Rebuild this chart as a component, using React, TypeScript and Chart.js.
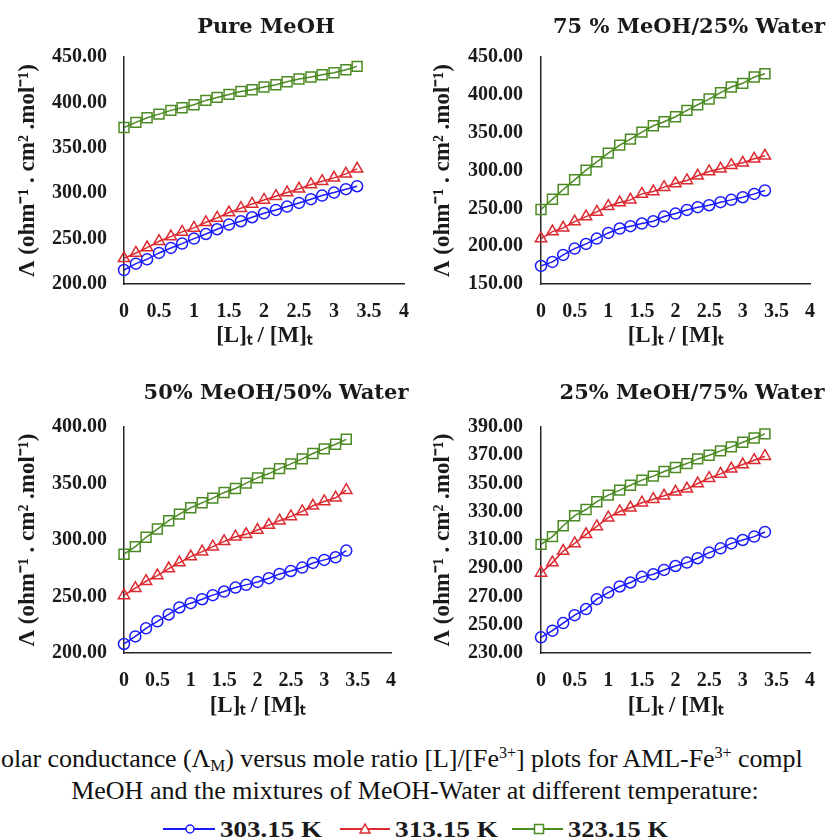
import React, { useEffect, useRef } from 'react';
import { Chart, registerables } from 'chart.js';

Chart.register(...registerables);

// ---------- DATA ----------
const ratio = [0, 0.17, 0.33, 0.5, 0.67, 0.83, 1, 1.17, 1.33, 1.5, 1.67, 1.83, 2, 2.17, 2.33, 2.5, 2.67, 2.83, 3, 3.17, 3.33];
const seriesLabels = ['303.15 K', '313.15 K', '323.15 K'];
const panelTitles = ['Pure MeOH', '75 % MeOH/25% Water', '50% MeOH/50% Water', '25% MeOH/75% Water'];
const xTickLabels = ['0', '0.5', '1', '1.5', '2', '2.5', '3', '3.5', '4'];

// Pure MeOH
const pure303 = [215.4, 222.4, 227.2, 234.2, 239.7, 244.5, 250.0, 255.1, 260.3, 265.4, 269.1, 273.5, 277.9, 281.6, 285.3, 289.3, 293.4, 297.4, 300.7, 304.4, 307.7];
const pure313 = [228.3, 234.2, 240.1, 247.1, 252.2, 257.4, 261.8, 268.0, 272.8, 278.7, 283.5, 288.2, 292.6, 296.7, 300.7, 304.8, 309.6, 313.2, 316.9, 321.3, 326.8];
const pure323 = [372.4, 378.0, 383.1, 387.1, 391.2, 394.1, 397.4, 402.2, 405.5, 408.8, 412.1, 414.0, 416.9, 419.5, 422.8, 425.7, 427.9, 430.5, 432.7, 436.0, 439.7];

// 75 % MeOH / 25 % Water
const m75_303 = [173.9, 179.2, 188.4, 196.8, 203.0, 210.0, 217.5, 223.3, 226.4, 229.9, 232.9, 239.1, 243.1, 247.9, 251.5, 254.1, 258.1, 261.2, 264.7, 269.1, 273.6];
const m75_313 = [210.0, 219.3, 224.2, 232.5, 239.1, 245.3, 252.8, 257.7, 261.2, 269.1, 272.2, 278.0, 282.8, 286.8, 293.0, 298.7, 302.2, 307.1, 310.2, 315.5, 319.4];
const m75_323 = [248.4, 262.1, 274.9, 287.7, 300.5, 311.5, 323.0, 333.5, 341.5, 350.7, 359.1, 364.4, 371.0, 379.4, 386.9, 394.4, 402.8, 410.3, 415.2, 423.5, 427.9];

// 50 % MeOH / 50 % Water
const m50_303 = [208.0, 214.7, 221.8, 228.0, 234.1, 240.3, 244.1, 247.6, 251.2, 254.4, 257.9, 260.3, 262.9, 266.2, 270.0, 272.6, 275.6, 279.7, 282.4, 284.7, 290.6];
const m50_313 = [250.9, 257.4, 263.5, 268.5, 274.7, 280.0, 285.3, 289.7, 294.1, 298.8, 302.9, 305.0, 308.8, 313.2, 317.1, 320.9, 325.3, 330.3, 334.1, 337.4, 344.1];
const m50_323 = [287.4, 294.1, 302.4, 309.7, 317.1, 322.9, 328.5, 332.9, 337.1, 342.1, 345.6, 350.3, 355.0, 358.8, 363.2, 367.4, 371.8, 376.5, 380.6, 384.7, 389.1];

// 25 % MeOH / 75 % Water
const m25_303 = [241.1, 245.8, 251.2, 256.8, 261.1, 268.1, 272.8, 277.1, 279.9, 283.9, 285.8, 288.8, 291.6, 294.0, 297.1, 301.1, 304.1, 307.6, 310.0, 312.4, 315.7];
const m25_313 = [286.7, 294.0, 302.2, 307.6, 314.0, 319.6, 325.8, 330.2, 332.8, 336.4, 338.9, 341.3, 344.1, 346.2, 350.0, 353.8, 356.8, 360.4, 363.4, 366.5, 369.3];
const m25_323 = [306.9, 312.4, 320.1, 327.2, 331.6, 337.1, 341.8, 345.3, 348.8, 352.4, 355.2, 358.5, 361.3, 364.1, 367.4, 370.0, 373.1, 375.9, 379.2, 382.2, 385.1];

// y-axis ranges [min, max, step]
const yRanges = [
  [200, 450, 50],
  [150, 450, 50],
  [200, 400, 50],
  [230, 390, 20],
];

// ---------- STYLE ----------
const COLORS = ['#1a1aff', '#dc2a30', '#4b8a22'];
const STYLES = ['circle', 'triangle', 'rect'];
const RADII = [5.5, 6.5, 7];
const SERIF = '"Liberation Serif", "Times New Roman", serif';
const TEXT = '#1a1a1a';

const panelTitlePlugin = {
  id: 'panelTitle',
  afterDraw(chart: any, _args: any, opts: any) {
    if (!opts || !opts.text) return;
    const ctx = chart.ctx;
    ctx.save();
    ctx.font = 'bold 21px "DejaVu Serif", serif';
    ctx.fillStyle = TEXT;
    ctx.textAlign = 'center';
    ctx.textBaseline = 'middle';
    ctx.fillText(opts.text, opts.x, opts.y);
    ctx.restore();
  },
};

type Layout = {
  cx: number; cy: number; w: number; h: number;
  left: number; right: number; top: number; bottom: number;
  xH: number; yTickPad: number; titleX: number; titleY: number;
};

const layouts: Layout[] = [
  { cx: 0, cy: 0, w: 415, h: 360, left: 124, right: 404, top: 57, bottom: 284, xH: 66, yTickPad: 17, titleX: 266, titleY: 28 },
  { cx: 415, cy: 0, w: 415, h: 360, left: 126, right: 395, top: 57, bottom: 284, xH: 66, yTickPad: 18, titleX: 274, titleY: 28 },
  { cx: 0, cy: 360, w: 415, h: 380, left: 124, right: 391, top: 67, bottom: 293, xH: 67, yTickPad: 17, titleX: 276, titleY: 34 },
  { cx: 415, cy: 360, w: 415, h: 380, left: 126, right: 395, top: 67, bottom: 293, xH: 67, yTickPad: 18, titleX: 277, titleY: 34 },
];

const panelSeries = [
  [pure303, pure313, pure323],
  [m75_303, m75_313, m75_323],
  [m50_303, m50_313, m50_323],
  [m25_303, m25_313, m25_323],
];

function Panel({ index }: { index: number }) {
  const ref = useRef<HTMLCanvasElement | null>(null);
  useEffect(() => {
    const L = layouts[index];
    const [ymin, ymax, ystep] = yRanges[index];
    const series = panelSeries[index];
    const datasets = series.map((vals, si) => ({
      label: seriesLabels[si],
      data: ratio.map((x, i) => ({ x, y: vals[i] })),
      borderColor: COLORS[si],
      backgroundColor: 'transparent',
      borderWidth: 1.5,
      pointStyle: STYLES[si],
      pointRadius: RADII[si],
      pointBorderWidth: 1.5,
      pointBackgroundColor: 'transparent',
      pointBorderColor: COLORS[si],
      tension: 0,
      clip: false as any,
    }));
    const chart = new Chart(ref.current as HTMLCanvasElement, {
      type: 'line',
      data: { datasets },
      plugins: [panelTitlePlugin as any],
      options: {
        responsive: false,
        animation: false,
        events: [],
        layout: {
          padding: { left: 0, top: L.top, right: L.w - L.right, bottom: L.h - L.bottom - L.xH },
        },
        plugins: {
          legend: { display: false },
          tooltip: { enabled: false },
          panelTitle: { text: panelTitles[index], x: L.titleX, y: L.titleY },
        } as any,
        scales: {
          x: {
            type: 'linear',
            min: 0,
            max: 4,
            afterBuildTicks: (s: any) => {
              s.ticks = xTickLabels.map((t) => ({ value: parseFloat(t) }));
            },
            ticks: {
              padding: 16,
              maxRotation: 0,
              autoSkip: false,
              color: TEXT,
              font: { family: SERIF, size: 20, weight: 'bold' },
              callback: (v: any) => String(v),
            },
            grid: { display: false, drawTicks: false },
            border: { display: true, color: '#262626', width: 1.5 },
            title: {
              display: true,
              text: '[L]ₜ / [M]ₜ',
              color: TEXT,
              font: { family: SERIF, size: 23, weight: 'bold' },
              padding: { top: 0, bottom: 0 },
            },
            afterFit: (s: any) => {
              s.height = L.xH;
              s.paddingLeft = 0;
              s.paddingRight = 0;
            },
          },
          y: {
            type: 'linear',
            min: ymin,
            max: ymax,
            ticks: {
              stepSize: ystep,
              padding: L.yTickPad,
              color: TEXT,
              font: { family: SERIF, size: 20, weight: 'bold' },
              callback: (v: any) => Number(v).toFixed(2),
            },
            grid: { display: false, drawTicks: false },
            border: { display: true, color: '#262626', width: 1.5 },
            title: {
              display: true,
              text: 'Λ (ohm⁻¹ . cm² .mol⁻¹)',
              color: TEXT,
              font: { family: SERIF, size: 23, weight: 'bold' },
              padding: { top: 14, bottom: 0 },
            },
            afterFit: (s: any) => {
              s.width = L.left;
              s.paddingTop = 0;
              s.paddingBottom = 0;
            },
          },
        },
      } as any,
    });
    return () => chart.destroy();
  }, [index]);
  const L = layouts[index];
  return (
    <canvas
      ref={ref}
      width={L.w}
      height={L.h}
      style={{ position: 'absolute', left: L.cx, top: L.cy, width: L.w, height: L.h, display: 'block' }}
    />
  );
}

function Legend() {
  const cy = 20;
  const tx = { fontFamily: SERIF, fontWeight: 'bold' as const, fontSize: 23, fill: '#1a1a1a' };
  return (
    <svg width={830} height={32} style={{ position: 'absolute', left: 0, top: 809 }}>
      <line x1={163} x2={215} y1={cy} y2={cy} stroke={COLORS[0]} strokeWidth={2} />
      <circle cx={190} cy={cy} r={4} fill="#fff" stroke={COLORS[0]} strokeWidth={1.5} />
      <text x={220} y={cy + 8} textLength={102} lengthAdjust="spacingAndGlyphs" style={tx}>{seriesLabels[0]}</text>
      <line x1={340} x2={390} y1={cy} y2={cy} stroke={COLORS[1]} strokeWidth={2} />
      <polygon points={`365,${cy - 5} 370,${cy + 4} 360,${cy + 4}`} fill="#fff" stroke={COLORS[1]} strokeWidth={1.5} />
      <text x={395} y={cy + 8} textLength={103} lengthAdjust="spacingAndGlyphs" style={tx}>{seriesLabels[1]}</text>
      <line x1={512} x2={563} y1={cy} y2={cy} stroke={COLORS[2]} strokeWidth={2} />
      <rect x={534.5} y={cy - 4.5} width={9} height={9} fill="#fff" stroke={COLORS[2]} strokeWidth={1.5} />
      <text x={568} y={cy + 8} textLength={100} lengthAdjust="spacingAndGlyphs" style={tx}>{seriesLabels[2]}</text>
    </svg>
  );
}

export default function App() {
  const sub: React.CSSProperties = { fontSize: '0.65em', verticalAlign: '-0.25em', lineHeight: 0 };
  const sup: React.CSSProperties = { fontSize: '0.62em', verticalAlign: '0.55em', lineHeight: 0 };
  return (
    <div style={{ position: 'absolute', left: 0, top: 0, width: 830, height: 839, background: '#fff', overflow: 'hidden' }}>
      {[0, 1, 2, 3].map((i) => (
        <Panel key={i} index={i} />
      ))}
      <div
        style={{
          position: 'absolute', left: 1, top: 743, whiteSpace: 'nowrap',
          fontFamily: SERIF, fontSize: 26, lineHeight: '32px', color: '#111', letterSpacing: '-0.08px',
        }}
      >
        olar conductance (Λ<span style={sub}>M</span>) versus mole ratio [L]/[Fe<span style={sup}>3+</span>] plots for AML-Fe<span style={sup}>3+</span> compl
      </div>
      <div
        style={{
          position: 'absolute', left: 0, top: 775, width: 830, textAlign: 'center', whiteSpace: 'nowrap',
          fontFamily: SERIF, fontSize: 26, lineHeight: '32px', color: '#111',
        }}
      >
        MeOH and the mixtures of MeOH-Water at different temperature:
      </div>
      <Legend />
    </div>
  );
}
